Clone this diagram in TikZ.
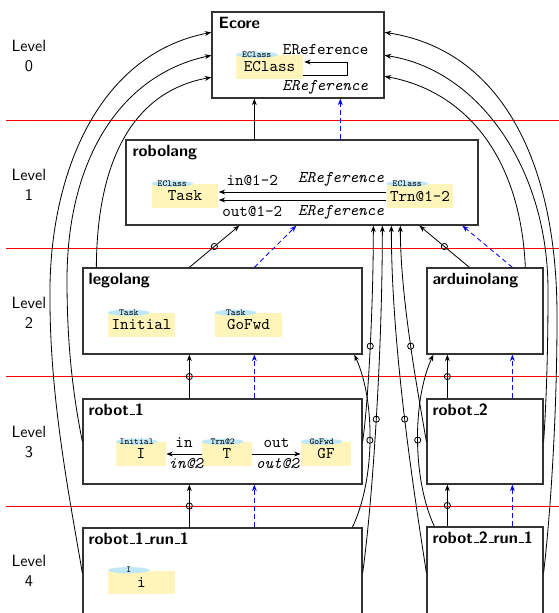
\documentclass[tikz,border=0pt]{standalone}
\usetikzlibrary{arrows.meta,calc,fit,shapes.geometric}
\definecolor{objyellow}{RGB}{255,244,185}
\definecolor{badgeblue}{RGB}{190,232,248}
\definecolor{sepred}{RGB}{255,0,0}
\newcommand{\usc}{\leavevmode\kern.06em\vbox{\hrule width .3em height .6pt}}
\begin{document}
\begin{tikzpicture}[x=0.6135pt,y=-0.6135pt,
  box/.style={draw=black!80, line width=0.8pt, inner sep=0pt},
  ttl/.style={font=\sffamily\bfseries, anchor=base west, inner sep=0pt},
  lvl/.style={font=\sffamily, align=center, inner sep=0pt},
  obj/.style={fill=objyellow, font=\ttfamily, minimum height=14.7pt, inner sep=0pt},
  badge/.style={ellipse, fill=badgeblue, inner sep=0pt, minimum width=25.6pt, minimum height=3.8pt,
    text height=1.2pt, text depth=0pt, font=\fontsize{5.6}{5.6}\selectfont\ttfamily,
    execute at begin node={\hbox to 0pt\bgroup\hss\lower1.1pt\hbox\bgroup},
    execute at end node={\egroup\hss\egroup}},
  lbl/.style={font=\ttfamily, anchor=base, inner sep=0pt},
  arr/.style={-{Stealth[length=4pt,width=3pt]}, line width=0.5pt, black},
  inst/.style={-{Stealth[length=4pt,width=3pt]}, line width=0.5pt, blue, dash pattern=on 3pt off 2pt},
  ring/.style={circle, draw=black, line width=0.5pt, inner sep=0pt, minimum size=3.8pt},
  sep/.style={draw=sepred, line width=0.7pt}]
\useasboundingbox (0,0) rectangle (559,613);

% level labels
\node[lvl] (lv0) at (29,56) {Level\\0};
\node[lvl] (lv1) at (29,185) {Level\\1};
\node[lvl] (lv2) at (29,313) {Level\\2};
\node[lvl] (lv3) at (29,442) {Level\\3};
\node[lvl] (lv4) at (29,571) {Level\\4};

% boxes
\node[box, fit={(212,12) (384,98)}] (ecore) {};
\node[box, fit={(126,140) (478,225)}] (robolang) {};
\node[box, fit={(83,268) (362,354)}] (legolang) {};
\node[box, fit={(427,268) (543,354)}] (arduino) {};
\node[box, fit={(83,399) (362,484)}] (robot1) {};
\node[box, fit={(427,399) (543,484)}] (robot2) {};
\node[box, fit={(83,528) (362,618)}] (run1) {};
\node[box, fit={(427,527) (543,618)}] (run2) {};

% titles
\node[ttl] (ecoreT) at ($(ecore.north west)+(7,17)$) {Ecore};
\node[ttl] (robolangT) at ($(robolang.north west)+(7,17)$) {robolang};
\node[ttl] (legolangT) at ($(legolang.north west)+(6,17)$) {legolang};
\node[ttl] (arduinoT) at ($(arduino.north west)+(6,17)$) {arduinolang};
\node[ttl] (robot1T) at ($(robot1.north west)+(6,17)$) {robot\usc 1};
\node[ttl] (robot2T) at ($(robot2.north west)+(6,17)$) {robot\usc 2};
\node[ttl] (run1T) at ($(run1.north west)+(6,17)$) {robot\usc 1\usc run\usc 1};
\node[ttl] (run2T) at ($(run2.north west)+(6,17)$) {robot\usc 2\usc run\usc 1};

% objects
\node[obj, minimum width=41pt] (eclass) at (269.5,67) {EClass};
\node[badge] (eclassB) at ($(eclass.north west)+(21,0)$) {EClass};
\node[obj, minimum width=41pt] (task) at (185,196) {Task};
\node[badge] (taskB) at ($(task.north west)+(21,0)$) {EClass};
\node[obj, minimum width=41pt] (trn) at (420,196) {Trn@1-2};
\node[badge] (trnB) at ($(trn.north west)+(21,0)$) {EClass};
\node[obj, minimum width=41pt] (initial) at (141.5,325) {Initial};
\node[badge] (initialB) at ($(initial.north west)+(21,0)$) {Task};
\node[obj, minimum width=41pt] (gofwd) at (248.5,325) {GoFwd};
\node[badge] (gofwdB) at ($(gofwd.north west)+(21,0)$) {Task};
\node[obj, minimum width=30.7pt] (oI) at (141,454) {I};
\node[badge] (oIB) at ($(oI.north west)+(21,0)$) {Initial};
\node[obj, minimum width=30.7pt] (oT) at (227,454) {T};
\node[badge] (oTB) at ($(oT.north west)+(21,0)$) {Trn@2};
\node[obj, minimum width=30.7pt] (oGF) at (326,454) {GF};
\node[badge] (oGFB) at ($(oGF.north west)+(21,0)$) {GoFwd};
\node[obj, minimum width=41pt] (oi) at (141.5,582.5) {i};
\node[badge] (oiB) at ($(oi.north west)+(21,0)$) {I};

% links inside boxes
\draw[arr] ($(eclass.east)+(0,8)$) -- ++(44,0) node[lbl, pos=0.5, yshift=-9.8pt] {\itshape EReference}
  -- ++(0,-13) -- ($(eclass.east)+(1,-5)$) node[lbl, pos=0.5, yshift=4.3pt] {EReference};
\draw[arr] ($(trn.west)+(0,-4)$) -- ($(task.east)+(0,-4)$)
  node[lbl, pos=0.27, yshift=6.1pt] {\itshape EReference}
  node[lbl, pos=0.80, yshift=3.7pt] {in@1-2};
\draw[arr] ($(trn.west)+(0,4)$) -- ($(task.east)+(0,4)$)
  node[lbl, pos=0.27, yshift=-9.8pt] {\itshape EReference}
  node[lbl, pos=0.80, yshift=-10.1pt] {out@1-2};
\draw[arr] (oT.west) -- (oI.east)
  node[lbl, pos=0.5, yshift=3.7pt] {in}
  node[lbl, pos=0.45, yshift=-8.6pt] {\itshape in@2};
\draw[arr] (oT.east) -- (oGF.west)
  node[lbl, pos=0.5, yshift=3.7pt] {out}
  node[lbl, pos=0.52, yshift=-8.6pt] {\itshape out@2};

% separators
\draw[sep] (6,120.5) -- (559,120.5);
\draw[sep] (6,248.5) -- (559,248.5);
\draw[sep] (6,376.6) -- (559,376.6);
\draw[sep] (6,506.5) -- (559,506.5);

% vertical conformance arrows
\draw[arr] ($(robolang.north west)+(129,0)$) -- ($(ecore.south west)+(43,0)$);
\draw[inst] ($(robolang.north west)+(215,0)$) -- ($(ecore.south west)+(129,0)$);
\draw[arr] ($(legolang.north west)+(107,0)$) -- node[ring]{} ($(robolang.south west)+(114,0)$);
\draw[inst] ($(legolang.north west)+(172,0)$) -- ($(robolang.south west)+(171,0)$);
\draw[arr] ($(arduino.north west)+(43,0)$) -- node[ring]{} ($(robolang.south west)+(294,0)$);
\draw[inst] ($(arduino.north west)+(86,0)$) -- ($(robolang.south west)+(337,0)$);
\draw[arr] ($(robot1.north west)+(107,0)$) -- node[ring]{} ($(legolang.south west)+(107,0)$);
\draw[inst] ($(robot1.north west)+(172,0)$) -- ($(legolang.south west)+(172,0)$);
\draw[arr] ($(run1.north west)+(107,0)$) -- node[ring]{} ($(robot1.south west)+(107,0)$);
\draw[inst] ($(run1.north west)+(172,0)$) -- ($(robot1.south west)+(172,0)$);
\draw[arr] ($(robot2.north west)+(21,0)$) -- node[ring]{} ($(arduino.south west)+(21,0)$);
\draw[inst] ($(robot2.north west)+(86,0)$) -- ($(arduino.south west)+(86,0)$);
\draw[arr] ($(run2.north west)+(21,0)$) -- node[ring]{} ($(robot2.south west)+(21,0)$);
\draw[inst] ($(run2.north west)+(86,0)$) -- ($(robot2.south west)+(86,0)$);

% long links to robolang
\draw[arr] (robot1.east) .. controls +(6,-41.5) and +(0,75) .. ($(robolang.south west)+(248,0)$) node[ring, pos=0.5]{};
\draw[arr] (run1.east) .. controls +(10,-72) and +(0,125) .. ($(robolang.south west)+(257,0)$) node[ring, pos=0.5]{};
\draw[arr] (robot2.west) .. controls +(-7,-41.5) and +(0,75) .. ($(robolang.south west)+(275,0)$) node[ring, pos=0.5]{};
\draw[arr] (run2.west) .. controls +(-11,-71.5) and +(0,125) .. ($(robolang.south west)+(266,0)$) node[ring, pos=0.5]{};
\draw[arr] ($(run1.north west)+(270,0)$) .. controls +(23,-48) and +(21,46) .. ($(legolang.south west)+(272,0)$) node[ring, pos=0.5]{};
\draw[arr] ($(run2.north west)+(8,0)$) .. controls +(-22,-47) and +(-21,46) .. ($(arduino.south west)+(7,0)$) node[ring, pos=0.5]{};

% long links to Ecore
\draw[arr] (run1.west) .. controls (70,500) and (50,400) .. (50,300) .. controls (48,180) and (95,55) .. ($(ecore.north west)+(0,21)$);
\draw[arr] (robot1.west) .. controls (72,390) and (67,340) .. (67,280) .. controls (67,160) and (120,75) .. ($(ecore.north west)+(0,44)$);
\draw[arr] ($(legolang.north west)+(14,0)$) .. controls (97,150) and (140,90) .. ($(ecore.north west)+(0,66)$);
\draw[arr] ($(arduino.north west)+(99,0)$) .. controls (520,150) and (460,90) .. ($(ecore.north east)+(0,65)$);
\draw[arr] (robot2.east) .. controls (547,390) and (548,340) .. (548,290) .. controls (548,170) and (480,70) .. ($(ecore.north east)+(0,44)$);
\draw[arr] (run2.east) .. controls (552,500) and (557,400) .. (557,320) .. controls (558,160) and (500,50) .. ($(ecore.north east)+(0,21)$);
\end{tikzpicture}
\end{document}
